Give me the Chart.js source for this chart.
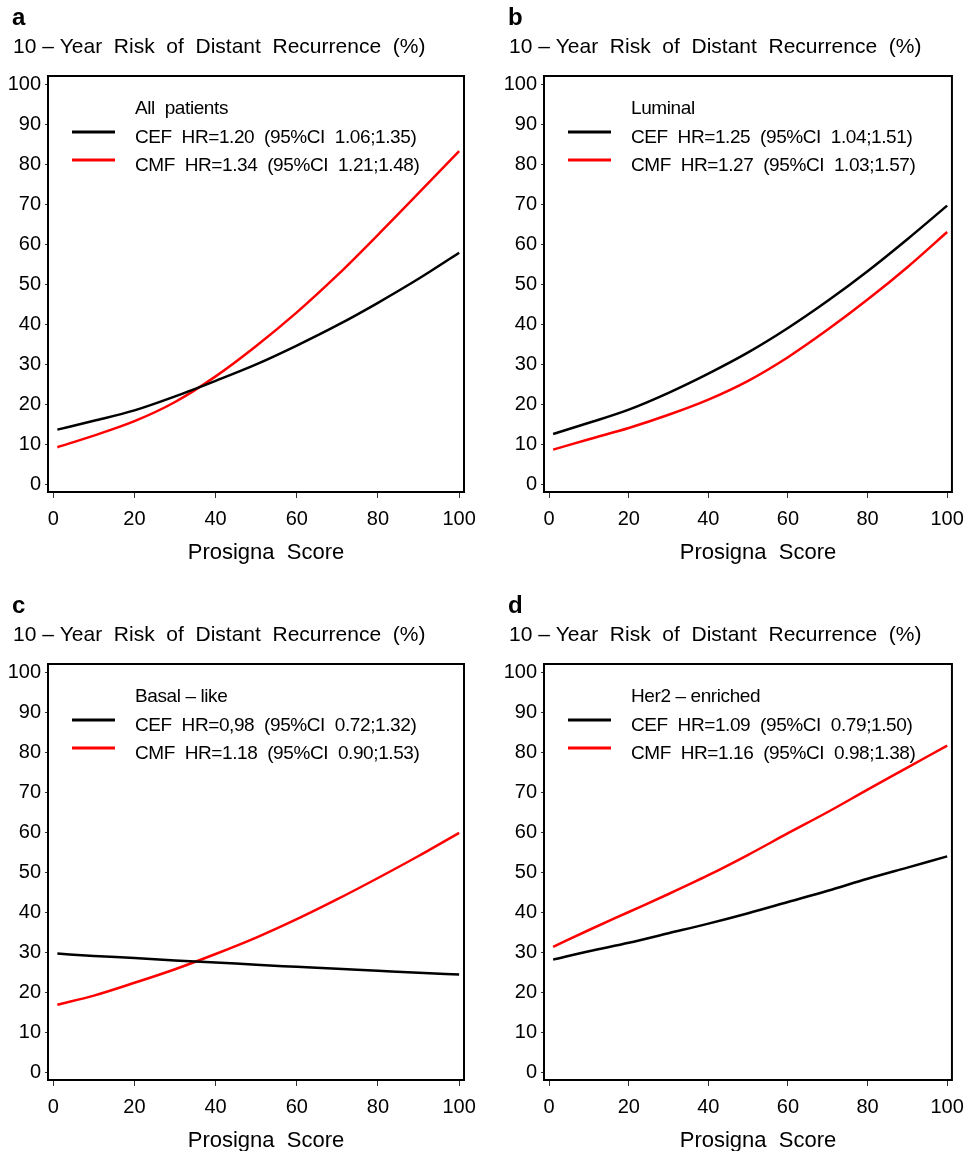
<!DOCTYPE html>
<html>
<head>
<meta charset="utf-8">
<script src="https://cdn.jsdelivr.net/npm/chart.js@4.4.0/dist/chart.umd.min.js"></script>
<style>
html,body{margin:0;padding:0;background:#ffffff;}
body{width:973px;height:1151px;position:relative;overflow:hidden;}
canvas{position:absolute;display:block;}
</style>
</head>
<body>
<canvas id="pa" width="490" height="588" style="left:0px;top:0px"></canvas>
<canvas id="pb" width="477" height="588" style="left:496px;top:0px"></canvas>
<canvas id="pc" width="490" height="563" style="left:0px;top:588px"></canvas>
<canvas id="pd" width="477" height="563" style="left:496px;top:588px"></canvas>
<script>
// ---- data ----
const xScores = [1, 10, 20, 30, 40, 50, 60, 70, 80, 90, 100];

const cefAll   = [13.6, 15.8, 18.4, 21.9, 25.8, 29.9, 34.6, 39.7, 45.3, 51.3, 57.8];
const cmfAll   = [9.2, 12.1, 15.7, 20.5, 26.9, 34.5, 42.9, 52.2, 62.3, 72.7, 83.2];

const cefLum   = [12.5, 15.3, 18.6, 22.8, 27.6, 32.9, 39.0, 45.8, 53.2, 61.2, 69.6];
const cmfLum   = [8.6, 11.2, 14.0, 17.3, 21.1, 25.8, 31.7, 38.6, 46.1, 54.2, 63.0];

const cefBasal = [29.6, 29.0, 28.5, 27.9, 27.4, 26.8, 26.3, 25.8, 25.3, 24.8, 24.4];
const cmfBasal = [16.8, 19.1, 22.3, 25.7, 29.5, 33.6, 38.2, 43.2, 48.5, 54.0, 59.8];

const cefHer2  = [28.1, 30.2, 32.3, 34.7, 37.1, 39.7, 42.5, 45.3, 48.3, 51.1, 53.9];
const cmfHer2  = [31.3, 35.5, 40.0, 44.5, 49.2, 54.3, 59.7, 65.0, 70.6, 76.1, 81.6];

const xTicks = [0, 20, 40, 60, 80, 100];
const yTicks = [0, 10, 20, 30, 40, 50, 60, 70, 80, 90, 100];

const panelLetters = ['a', 'b', 'c', 'd'];
const subgroups = ['All  patients', 'Luminal', 'Basal – like', 'Her2 – enriched'];
const cefLabels = [
  'CEF  HR=1.20  (95%CI  1.06;1.35)',
  'CEF  HR=1.25  (95%CI  1.04;1.51)',
  'CEF  HR=0,98  (95%CI  0.72;1.32)',
  'CEF  HR=1.09  (95%CI  0.79;1.50)'
];
const cmfLabels = [
  'CMF  HR=1.34  (95%CI  1.21;1.48)',
  'CMF  HR=1.27  (95%CI  1.03;1.57)',
  'CMF  HR=1.18  (95%CI  0.90;1.53)',
  'CMF  HR=1.16  (95%CI  0.98;1.38)'
];
const yTitle = '10 – Year  Risk  of  Distant  Recurrence  (%)';
const xTitle = 'Prosigna  Score';

const cefSeries = [cefAll, cefLum, cefBasal, cefHer2];
const cmfSeries = [cmfAll, cmfLum, cmfBasal, cmfHer2];
const canvasIds = ['pa', 'pb', 'pc', 'pd'];

// ---- styles ----
const FONT = '"Liberation Sans", Arial, Helvetica, sans-serif';
const BLACK = '#000000';
const RED = '#ff0000';

const panelDecor = {
  id: 'panelDecor',
  afterDraw(chart, args, opts) {
    const ctx = chart.ctx;
    const a = chart.chartArea;
    const i = opts.index;
    ctx.save();
    // frame
    ctx.strokeStyle = BLACK;
    ctx.lineWidth = 2;
    ctx.strokeRect(a.left, a.top, a.right - a.left, a.bottom - a.top);
    ctx.fillStyle = BLACK;
    ctx.textAlign = 'left';
    ctx.textBaseline = 'alphabetic';
    // panel letter
    ctx.font = 'bold 24px ' + FONT;
    ctx.fillText(panelLetters[i], 12, 25);
    // y title
    ctx.font = '21px ' + FONT;
    ctx.fillText(yTitle, 13, 53);
    // legend
    const lx = a.left + 87;
    ctx.font = '19px ' + FONT;
    if ('letterSpacing' in ctx) ctx.letterSpacing = '-0.4px';
    ctx.fillText(subgroups[i], lx, a.top + 38);
    ctx.fillText(cefLabels[i], lx, a.top + 67);
    ctx.fillText(cmfLabels[i], lx, a.top + 95);
    if ('letterSpacing' in ctx) ctx.letterSpacing = '0px';
    ctx.lineWidth = 3;
    ctx.strokeStyle = BLACK;
    ctx.beginPath(); ctx.moveTo(a.left + 24, a.top + 56); ctx.lineTo(a.left + 67, a.top + 56); ctx.stroke();
    ctx.strokeStyle = RED;
    ctx.beginPath(); ctx.moveTo(a.left + 24, a.top + 84); ctx.lineTo(a.left + 67, a.top + 84); ctx.stroke();
    // x title
    ctx.font = '22px ' + FONT;
    ctx.textAlign = 'center';
    ctx.fillText(xTitle, (a.left + a.right) / 2 + 10, 559);
    ctx.restore();
  }
};

function makeChart(i) {
  const cv = document.getElementById(canvasIds[i]);
  const W = cv.width, H = cv.height;
  const AREA_LEFT = 48, AREA_RIGHT = 464, AREA_TOP = 76, AREA_BOTTOM = 492;
  const XAXIS_H = 70;
  return new Chart(cv, {
    type: 'line',
    data: {
      datasets: [
        {
          label: 'CEF',
          data: xScores.map((x, k) => ({ x: x, y: cefSeries[i][k] })),
          borderColor: BLACK, borderWidth: 2.5, pointRadius: 0,
          cubicInterpolationMode: 'monotone', fill: false
        },
        {
          label: 'CMF',
          data: xScores.map((x, k) => ({ x: x, y: cmfSeries[i][k] })),
          borderColor: RED, borderWidth: 2.5, pointRadius: 0,
          cubicInterpolationMode: 'monotone', fill: false
        }
      ]
    },
    options: {
      responsive: false,
      animation: false,
      devicePixelRatio: 1,
      layout: {
        padding: { left: 0, top: AREA_TOP, right: W - AREA_RIGHT, bottom: H - AREA_BOTTOM - XAXIS_H }
      },
      plugins: {
        legend: { display: false },
        tooltip: { enabled: false },
        title: { display: false },
        panelDecor: { index: i }
      },
      scales: {
        x: {
          type: 'linear',
          min: -1.3, max: 101.2,
          afterBuildTicks: s => { s.ticks = xTicks.map(v => ({ value: v })); },
          afterFit: s => { s.height = XAXIS_H; },
          grid: { drawOnChartArea: false, drawTicks: true, tickLength: 6, color: '#333333', lineWidth: 1 },
          border: { display: false },
          ticks: { autoSkip: false, maxRotation: 0, padding: 9, color: BLACK, font: { family: FONT, size: 20 } }
        },
        y: {
          type: 'linear',
          min: -2, max: 102,
          afterBuildTicks: s => { s.ticks = yTicks.map(v => ({ value: v })); },
          afterFit: s => { s.width = AREA_LEFT; },
          grid: { drawOnChartArea: false, drawTicks: true, tickLength: 3, color: '#333333', lineWidth: 1 },
          border: { display: false },
          ticks: { autoSkip: false, padding: 4, color: BLACK, font: { family: FONT, size: 20 } }
        }
      }
    },
    plugins: [panelDecor]
  });
}

for (let i = 0; i < 4; i++) makeChart(i);
</script>
</body>
</html>
